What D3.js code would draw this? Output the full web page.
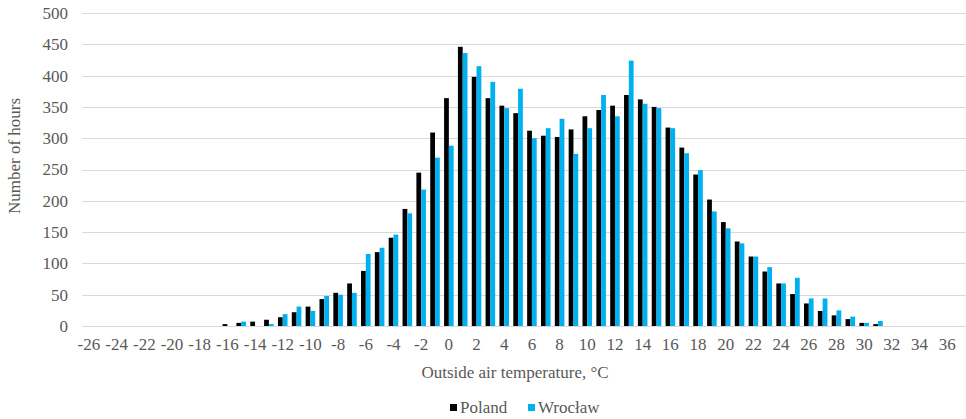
<!DOCTYPE html>
<html>
<head>
<meta charset="utf-8">
<script src="https://cdn.jsdelivr.net/npm/d3@7"></script>
<style>
  body { margin: 0; background: #fff; }
</style>
</head>
<body>
<div id="chart"></div>
<script>
// temperature classes, -26 .. 37 degC (37 is the empty last slot)
var temps = d3.range(-26, 38);
var tickLabels = d3.range(-26, 37, 2);
var yTicks = [0, 50, 100, 150, 200, 250, 300, 350, 400, 450, 500];
var seriesNames = ["Poland", "Wrocław"];
var seriesColors = ["#000000", "#00b0f0"];

// hours per temperature class
var poland = [0, 0, 0, 0, 0, 0, 0, 0, 0, 0, 3, 5, 7, 10, 14, 22, 31, 43, 53, 68,
  88, 118, 141, 187, 245, 309, 364, 446, 398, 364, 352, 340, 312, 304, 302, 314,
  335, 345, 352, 369, 362, 350, 317, 285, 242, 202, 166, 135, 111, 87, 68, 51,
  36, 24, 17, 11, 5, 3, 0, 0, 0, 0, 0, 0];
var wroclaw = [0, 0, 0, 0, 0, 0, 0, 0, 0, 0, 0, 7, 0, 3, 19, 31, 24, 48, 50, 53,
  115, 125, 146, 180, 218, 269, 288, 436, 415, 390, 348, 379, 300, 316, 331, 275,
  316, 369, 335, 424, 355, 348, 316, 276, 249, 183, 156, 132, 111, 94, 68, 77,
  44, 44, 25, 15, 5, 8, 0, 0, 0, 0, 0, 0];

var width = 966, height = 419;
var margin = { left: 82, right: 0, top: 13, bottom: 93 };
var font = '"Liberation Serif", "Times New Roman", "DejaVu Serif", serif';
var textColor = '#595959';

var svg = d3.select('#chart').append('svg')
              .attr('width', width)
              .attr('height', height)
              .style('font-family', font);

var x = d3.scaleBand()
          .domain(temps)
          .range([margin.left, 968])
          .paddingInner(0.31)
          .paddingOuter(0.155);

var xInner = d3.scaleBand()
               .domain([0, 1])
               .range([0, x.bandwidth()]);

var y = d3.scaleLinear()
          .domain([0, 500])
          .range([height - margin.bottom, margin.top]);

// gridlines
svg.append('g')
   .selectAll('line')
   .data(yTicks).enter()
   .append('line')
   .attr('x1', margin.left)
   .attr('x2', width)
   .attr('y1', function(d) { return Math.round(y(d)) + 0.5; })
   .attr('y2', function(d) { return Math.round(y(d)) + 0.5; })
   .style('stroke', '#d9d9d9')
   .style('stroke-width', 1);

// y tick labels
var yAxis = svg.append('g')
               .attr('transform', 'translate(' + (margin.left - 14) + ',0)')
               .call(d3.axisLeft(y).tickValues(yTicks).tickSize(0).tickPadding(0));
yAxis.attr('font-family', null).attr('font-size', null);
yAxis.select('.domain').remove();
yAxis.selectAll('text')
     .style('font-family', font)
     .style('font-size', '17px')
     .attr('fill', textColor);

// x tick labels
var xAxis = svg.append('g')
               .attr('transform', 'translate(0,' + (height - margin.bottom) + ')')
               .call(d3.axisBottom(x).tickValues(tickLabels).tickSize(0).tickPadding(12)
                       .tickFormat(function(d) { return String(d).replace('-', '-'); }));
xAxis.attr('font-family', null).attr('font-size', null);
xAxis.select('.domain').remove();
xAxis.selectAll('text')
     .style('font-family', font)
     .style('font-size', '17px')
     .attr('fill', textColor);

// bars
var series = [poland, wroclaw];
series.forEach(function(vals, s) {
  svg.append('g')
     .selectAll('rect')
     .data(vals).enter()
     .append('rect')
     .attr('x', function(d, i) { return x(temps[i]) + xInner(s); })
     .attr('y', function(d) { return y(d); })
     .attr('width', xInner.bandwidth())
     .attr('height', function(d) { return y(0) - y(d); })
     .style('fill', seriesColors[s]);
});

// axis titles
svg.append('text')
   .attr('x', 515)
   .attr('y', 378)
   .attr('text-anchor', 'middle')
   .style('font-family', font)
   .style('font-size', '17px')
   .style('fill', textColor)
   .text('Outside air temperature, °C');

svg.append('text')
   .attr('transform', 'translate(20,156) rotate(-90)')
   .attr('text-anchor', 'middle')
   .style('font-family', font)
   .style('font-size', '17px')
   .style('fill', textColor)
   .text('Number of hours');

// legend
var legend = svg.append('g').attr('transform', 'translate(450,408)');
var legendX = [0, 78];
seriesNames.forEach(function(name, s) {
  legend.append('rect')
        .attr('x', legendX[s])
        .attr('y', -4)
        .attr('width', 7)
        .attr('height', 7)
        .style('fill', seriesColors[s]);
  legend.append('text')
        .attr('x', legendX[s] + 10)
        .attr('y', 5)
        .style('font-family', font)
        .style('font-size', '17px')
        .style('fill', textColor)
        .text(name);
});
</script>
</body>
</html>
